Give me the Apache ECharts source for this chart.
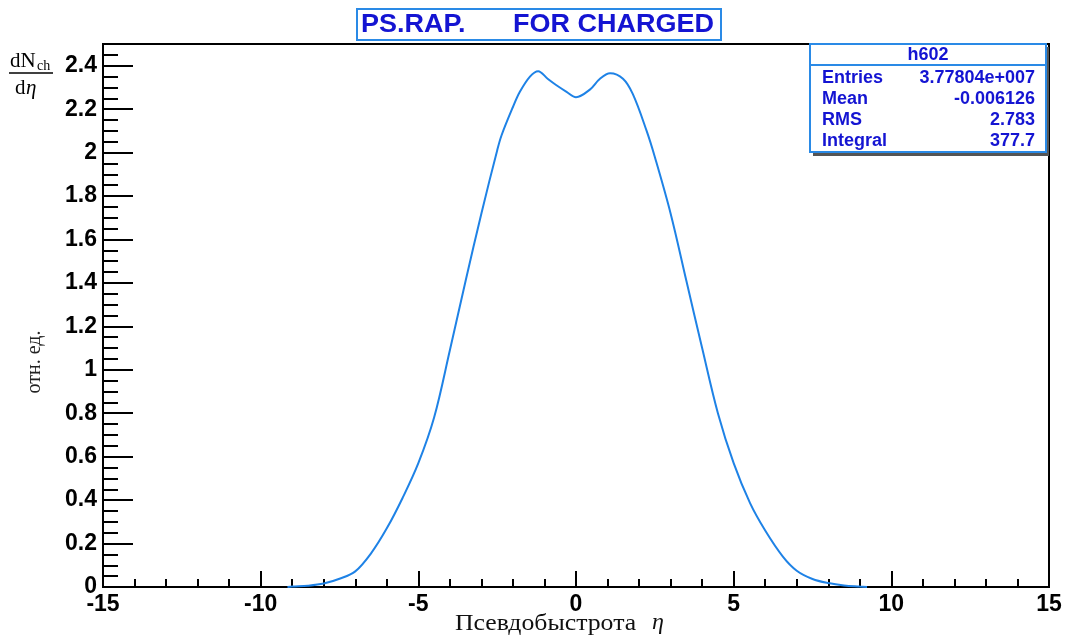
<!DOCTYPE html>
<html>
<head>
<meta charset="utf-8">
<script src="https://cdn.jsdelivr.net/npm/echarts@6/dist/echarts.min.js"></script>
<style>
  html, body { margin: 0; padding: 0; background: #fff; }
  #chart { width: 1070px; height: 642px; }
</style>
</head>
<body>
<div id="chart"></div>
<script>
// Pseudorapidity distribution of charged particles, dN/dη
const eta = [-9.15, -9, -8.5, -8, -7.5, -7, -6.5, -6, -5.5, -5, -4.5, -4, -3.5, -3, -2.5, -2.36,
  -2, -1.78, -1.46, -1.2, -0.9, -0.62, -0.3, 0, 0.44, 0.76, 1.08, 1.49, 1.8, 2.24,
  2.5, 3, 3.5, 4, 4.5, 5, 5.52, 6, 6.56, 7, 7.5, 8, 8.5, 9, 9.23];
const dNdEta = [0.0, 0.002, 0.006, 0.016, 0.038, 0.072, 0.155, 0.27, 0.41, 0.57, 0.78, 1.09, 1.41, 1.72, 2.01, 2.08,
  2.21, 2.28, 2.35, 2.375, 2.34, 2.31, 2.28, 2.255, 2.29, 2.34, 2.365, 2.34, 2.27, 2.10,
  1.98, 1.72, 1.41, 1.10, 0.80, 0.57, 0.386, 0.26, 0.14, 0.075, 0.037, 0.018, 0.007, 0.002, 0.0];

const xTicks = [-15, -10, -5, 0, 5, 10, 15];
const titleParts = ['PS.RAP.', 'FOR CHARGED'];
const statsName = 'h602';
const statsLabels = ['Entries', 'Mean', 'RMS', 'Integral'];
const statsValues = ['3.77804e+007', '-0.006126', '2.783', '377.7'];

const BLUE_TEXT = '#1414d2';
const BOX_BORDER = '#2a8ae6';
const LINE_COLOR = '#1e82e6';
const SANS = '"Liberation Sans", Arial, sans-serif';
const SERIF = '"Liberation Serif", "Times New Roman", serif';

const chart = echarts.init(document.getElementById('chart'));

const labelFont = { fontFamily: 'Liberation Sans, Arial, sans-serif', fontWeight: 'bold', fontSize: 23, color: '#000' };

const statsRows = [];
statsLabels.forEach((lab, i) => {
  const cy = 78 + i * 21;
  statsRows.push({ type: 'text', x: 822, y: cy, z: 12, style: { text: lab, font: 'bold 18px ' + SANS, fill: BLUE_TEXT, verticalAlign: 'middle' } });
  statsRows.push({ type: 'text', x: 1035, y: cy, z: 12, style: { text: statsValues[i], font: 'bold 18px ' + SANS, fill: BLUE_TEXT, align: 'right', verticalAlign: 'middle' } });
});

chart.setOption({
  animation: false,
  backgroundColor: '#fff',
  grid: { left: 103, right: 21, top: 44, bottom: 55, show: true, borderColor: '#000', borderWidth: 2 },
  xAxis: [{
    type: 'value', min: -15, max: 15, interval: 5,
    axisLine: { onZero: false, lineStyle: { color: '#000', width: 2 } },
    axisTick: { inside: true, length: 16, lineStyle: { color: '#000', width: 2 } },
    minorTick: { show: true, splitNumber: 5, length: 8, lineStyle: { color: '#000', width: 2 } },
    splitLine: { show: false },
    axisLabel: Object.assign({ margin: 6, formatter: v => (xTicks.includes(v) ? String(v) : '') }, labelFont)
  }],
  yAxis: [{
    type: 'value', min: 0, max: 2.5, interval: 0.05,
    axisLine: { onZero: false, lineStyle: { color: '#000', width: 2 } },
    axisTick: { inside: true, length: 15, lineStyle: { color: '#000', width: 2 } },
    splitLine: { show: false },
    axisLabel: Object.assign({
      margin: 6,
      formatter: v => {
        const k = Math.round(v * 100);
        if (k % 20 !== 0 || k > 240) return '';
        return String(Math.round(v * 10) / 10);
      }
    }, labelFont)
  }, {
    type: 'value', min: 0, max: 2.5, interval: 0.2, position: 'left',
    axisLine: { show: false, onZero: false },
    axisTick: { inside: true, length: 30, lineStyle: { color: '#000', width: 2 } },
    splitLine: { show: false },
    axisLabel: { show: false }
  }],
  series: [{
    type: 'line',
    data: eta.map((x, i) => [x, dNdEta[i]]),
    showSymbol: false,
    symbol: 'none',
    smooth: 0.35,
    lineStyle: { color: LINE_COLOR, width: 2 },
    z: 3
  }],
  graphic: [
    // title box
    { type: 'rect', shape: { x: 357, y: 9, width: 364, height: 31 }, style: { fill: '#fff', stroke: BOX_BORDER, lineWidth: 2 } },
    { type: 'text', x: 361, y: 25, scaleX: 1.08, style: { text: titleParts[0], font: 'bold 25px ' + SANS, fill: BLUE_TEXT, verticalAlign: 'middle' } },
    { type: 'text', x: 513, y: 25, scaleX: 1.08, style: { text: titleParts[1], font: 'bold 25px ' + SANS, fill: BLUE_TEXT, verticalAlign: 'middle' } },
    // statistics box with shadow
    { type: 'rect', z: 10, shape: { x: 813, y: 47, width: 236, height: 109 }, style: { fill: '#555' } },
    { type: 'rect', z: 11, shape: { x: 810, y: 44, width: 236, height: 108 }, style: { fill: '#fff', stroke: BOX_BORDER, lineWidth: 2 } },
    { type: 'line', z: 11, shape: { x1: 810, y1: 65, x2: 1046, y2: 65 }, style: { stroke: BOX_BORDER, lineWidth: 2 } },
    { type: 'text', z: 12, x: 928, y: 55, style: { text: statsName, font: 'bold 18px ' + SANS, fill: BLUE_TEXT, align: 'center', verticalAlign: 'middle' } },
    ...statsRows,
    // y-axis fraction dN_ch / dη
    { type: 'text', x: 10, y: 61, style: { text: 'dN', font: '21px ' + SERIF, fill: '#000', verticalAlign: 'middle' } },
    { type: 'text', x: 37, y: 66, style: { text: 'ch', font: '14px ' + SERIF, fill: '#000', verticalAlign: 'middle' } },
    { type: 'line', shape: { x1: 9, y1: 73, x2: 53, y2: 73 }, style: { stroke: '#000', lineWidth: 1.5 } },
    { type: 'text', x: 15, y: 88, style: { text: 'd', font: '21px ' + SERIF, fill: '#000', verticalAlign: 'middle' } },
    { type: 'text', x: 26, y: 88, style: { text: 'η', font: 'italic 21px ' + SERIF, fill: '#000', verticalAlign: 'middle' } },
    // y-axis unit
    { type: 'text', x: 35, y: 362, rotation: Math.PI / 2, style: { text: 'отн. ед.', font: '20px ' + SERIF, fill: '#222', align: 'center', verticalAlign: 'middle' } },
    // x-axis title
    { type: 'text', x: 455, y: 624, scaleX: 1.12, style: { text: 'Псевдобыстрота', font: '23px ' + SERIF, fill: '#111', verticalAlign: 'middle' } },
    { type: 'text', x: 652, y: 623, style: { text: 'η', font: 'italic 24px ' + SERIF, fill: '#111', verticalAlign: 'middle' } }
  ]
});
</script>
</body>
</html>
